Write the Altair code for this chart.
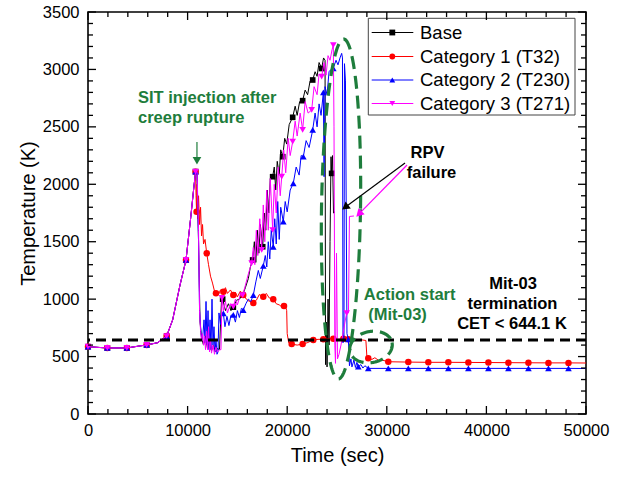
import altair as alt
import numpy as np
import pandas as pd

# ---------------- data ----------------
series_names = ["Base", "Category 1 (T32)", "Category 2 (T230)", "Category 3 (T271)"]
series_colors = ["#000000", "#ff0000", "#0000ff", "#ff00ff"]
series_shapes = ["square", "circle", "triangle-up", "triangle-down"]

# common part (all cases identical before SIT injection)
shared_t = [0, 1000, 1940, 3000, 3900, 5000, 5890, 7000, 7900, 8500, 9240, 9840, 10300, 10600, 10800]
shared_T = [586, 580, 575, 575, 575, 590, 601, 621, 679, 820, 1123, 1341, 1700, 1950, 2110]
shared_mk_t = [0, 1940, 3900, 5890, 7900, 9840, 10800]
shared_mk_T = [586, 575, 575, 601, 679, 1341, 2110]

base_t = [10950, 11100, 11250, 11400, 11600, 11800, 12000, 12200, 12400, 12600, 12800, 13000, 13200,
          13400, 13520, 13800, 14100, 14350, 14590, 14900, 15200, 15530, 15800, 16100, 16300, 16530,
          16700, 16850, 17000, 17150, 17300, 17540, 17700, 17850, 18000, 18150, 18300, 18540, 18700,
          18850, 19000, 19200, 19350, 19550, 19750, 19950, 20200, 20550, 20800, 21000, 21250, 21550,
          21800, 22050, 22300, 22560, 22800, 23000, 23200, 23460, 23650, 23800, 23850, 23950, 24000,
          24100, 24200, 24300, 24400, 24460, 24550, 24650, 24800]
base_T = [2100, 1500, 800, 660, 600, 680, 570, 640, 550, 600, 540, 570, 560,
          980, 1000, 900, 960, 900, 930, 990, 1000, 1036, 1100, 1180, 1280, 1341,
          1500, 1320, 1600, 1400, 1650, 1456, 1750, 1600, 1950, 1750, 2050, 2066, 2150,
          1950, 2200, 2080, 2300, 2240, 2400, 2350, 2520, 2583, 2680, 2600, 2720, 2728,
          2820, 2780, 2900, 2908, 2980, 2940, 3060, 3008, 3100, 3080, 430, 800, 410,
          1000, 600, 1500, 2240, 2095, 2250, 1750, 1761]
base_mk_t = [13520, 14590, 15530, 16530, 17540, 18540, 19550, 20550, 21550, 22560, 23460, 24460]
base_mk_T = [1000, 930, 1036, 1341, 1456, 2066, 2240, 2583, 2728, 2908, 3008, 2095]

cat1_t = [10850, 10900, 10950, 11000, 11100, 11200, 11300, 11400, 11500, 11600, 11750, 11920, 12100,
          12300, 12500, 12700, 12850, 13100, 13300, 13590, 13800, 14000, 14300, 14590, 14800, 15000,
          15300, 15590, 15900, 16200, 16600, 16900, 17200, 17600, 17900, 18200, 18600, 18900, 19200,
          19500, 19680, 19850, 19950, 20000, 20150, 20450, 21000, 21550, 22000, 22620, 23100, 23630,
          24100, 24630, 25100, 25640, 26140, 26800, 27500, 27900, 28000, 28140, 28500, 28800, 29200,
          29500, 30150, 32160, 34170, 36180, 38190, 40200, 42210, 44220, 46230, 48240, 50000]
cat1_T = [1900, 1761, 2000, 1700, 1900, 1650, 1800, 1550, 1650, 1480, 1520, 1399, 1300,
          1200, 1140, 1070, 1051, 1040, 1080, 1065, 1100, 1050, 1080, 1036, 1060, 1020,
          1070, 1036, 1000, 980, 966, 990, 1040, 1021, 1050, 1010, 1000, 960, 950,
          930, 940, 930, 900, 700, 620, 609, 600, 609, 620, 644, 650, 650,
          655, 655, 650, 655, 650, 650, 645, 640, 500, 485, 475, 490, 465,
          470, 455, 452, 450, 450, 449, 448, 447, 446, 445, 445, 444]
cat1_mk_t = [10900, 11920, 12850, 13590, 14590, 15590, 16600, 17600, 18600, 19680, 20450, 21550,
             22620, 23630, 24630, 25640, 26140, 28140, 30150, 32160, 34170, 36180, 38190, 40200,
             42210, 44220, 46230, 48240]
cat1_mk_T = [1761, 1399, 1051, 1065, 1036, 1036, 966, 1021, 1000, 940, 609, 609,
             644, 650, 655, 655, 650, 485, 455, 452, 450, 450, 449, 448,
             447, 446, 445, 445]

cat2_t = [10950, 11100, 11200, 11350, 11500, 11650, 11750, 11850, 11950, 12050, 12150, 12250, 12350,
          12450, 12550, 12650, 12750, 12850, 12950, 13050, 13150, 13300, 13450, 13590, 13750, 13950,
          14150, 14350, 14590, 14800, 15000, 15200, 15400, 15590, 15850, 16100, 16350, 16600, 16850,
          17100, 17300, 17600, 17800, 17950, 18100, 18250, 18400, 18600, 18750, 18900, 19050, 19200,
          19350, 19610, 19800, 20000, 20300, 20610, 20900, 21200, 21400, 21620, 21900, 22200, 22560,
          22800, 23000, 23200, 23400, 23630, 23700, 23800, 24000, 24200, 24400, 24630, 24900, 25100,
          25300, 25470, 25550, 25600, 25700, 25750, 25850, 26000, 26140, 26250, 26400, 26500, 26700,
          26850, 27000, 27140, 27400, 27600, 27800, 28140, 30150, 32160, 34170, 36180, 38190, 40200,
          42210, 44220, 46230, 48240, 50000]
cat2_T = [2100, 1500, 900, 700, 650, 820, 620, 980, 600, 900, 560, 820, 560,
          1000, 600, 760, 540, 650, 520, 540, 880, 780, 880, 876, 760, 850,
          770, 860, 862, 800, 900, 840, 920, 905, 960, 1000, 980, 1036, 1150,
          1250, 1180, 1290, 1380, 1280, 1500, 1350, 1600, 1456, 1700, 1480, 1850, 1520,
          1800, 1674, 1850, 1760, 1950, 2008, 2150, 2080, 2250, 2240, 2380, 2320, 2473,
          2620, 2500, 2700, 2600, 2800, 2066, 2850, 2780, 2980, 3000, 3010, 3080, 3040,
          3100, 3140, 3100, 620, 640, 3050, 2900, 700, 650, 420, 480, 410, 470,
          405, 450, 412, 430, 400, 420, 397, 397, 397, 397, 397, 397, 397,
          397, 397, 397, 397, 396]
cat2_mk_t = [13590, 14590, 15590, 16600, 17600, 18600, 19610, 20610, 21620, 22560, 23630, 24630,
             26140, 27140, 28140, 30150, 32160, 34170, 36180, 38190, 40200, 42210, 44220, 46230, 48240]
cat2_mk_T = [876, 862, 905, 1036, 1290, 1456, 1674, 2008, 2240, 2473, 2800, 3010,
             650, 412, 397, 397, 397, 397, 397, 397, 397, 397, 397, 397, 397]

cat3_t = [10950, 11100, 11200, 11300, 11400, 11500, 11600, 11700, 11800, 11900, 12000, 12100, 12200,
          12300, 12400, 12550, 12700, 12850, 13000, 13200, 13350, 13450, 13600, 13800, 14000, 14300,
          14590, 14800, 15000, 15300, 15530, 15800, 16100, 16430, 16600, 16750, 16900, 17050, 17250,
          17440, 17600, 17750, 17950, 18100, 18300, 18540, 18700, 18900, 19100, 19300, 19450, 19650,
          19850, 20100, 20300, 20550, 20800, 21000, 21300, 21550, 21800, 22100, 22460, 22700, 23000,
          23200, 23460, 23700, 23900, 24100, 24300, 24500, 24630, 24700, 24780, 24850, 24950, 25050,
          25200, 25400, 25600, 25800, 25970, 26150, 26250, 26700]
cat3_T = [2110, 1600, 900, 720, 640, 700, 600, 680, 560, 720, 560, 760, 540,
          640, 530, 600, 520, 580, 540, 560, 560, 1010, 900, 980, 880, 960,
          934, 1000, 950, 1040, 1036, 1120, 1220, 1314, 1450, 1300, 1600, 1380, 1700,
          1428, 1820, 1500, 1950, 1600, 2050, 1602, 2000, 1750, 2150, 1900, 2066, 2300,
          2100, 2400, 2250, 2371, 2550, 2420, 2620, 2473, 2720, 2620, 2647, 2850, 2780,
          2960, 2937, 3060, 2950, 3120, 3080, 3170, 3212, 2500, 600, 441, 1400, 480,
          520, 600, 700, 800, 879, 880, 1720, 1724]
cat3_mk_t = [13450, 14590, 15530, 16430, 17440, 18540, 19450, 20550, 21550, 22460, 23460, 24630, 25970]
cat3_mk_T = [1010, 934, 1036, 1314, 1428, 1602, 2066, 2371, 2473, 2647, 2937, 3212, 879]

series_t = [base_t, cat1_t, cat2_t, cat3_t]
series_T = [base_T, cat1_T, cat2_T, cat3_T]
series_mk_t = [base_mk_t, cat1_mk_t, cat2_mk_t, cat3_mk_t]
series_mk_T = [base_mk_T, cat1_mk_T, cat2_mk_T, cat3_mk_T]
marker_sizes = [32, 42, 44, 44]

x_labels = [0, 10000, 20000, 30000, 40000, 50000]
y_labels = [0, 500, 1000, 1500, 2000, 2500, 3000, 3500]
cet_limit = 644.1

# ---------------- layout ----------------
XMAX, YMAX = 50000, 3500
PW, PH = 498, 402          # plot area in pixels
FONT = "Liberation Sans"
GREEN = "#1e7d3c"


def rx(px):   # plot-relative pixel -> data x
    return px / PW * XMAX


def ry(py):   # plot-relative pixel -> data y
    return (PH - py) / PH * YMAX


xs = alt.Scale(domain=[0, XMAX], nice=False, zero=False)
ys = alt.Scale(domain=[0, YMAX], nice=False, zero=False)
xaxis = alt.Axis(title="Time (sec)", values=x_labels, format="d", ticks=False, tickSize=0,
                 domain=False, grid=False, labelFlush=False, labelPadding=8, titlePadding=7,
                 labelFontSize=16.5, titleFontSize=20, titleFontWeight="normal",
                 labelFont=FONT, titleFont=FONT, labelColor="black", titleColor="black")
yaxis = alt.Axis(title="Temperature (K)", values=y_labels, format="d", ticks=False, tickSize=0,
                 domain=False, grid=False, labelPadding=9, titlePadding=4,
                 labelFontSize=16.5, titleFontSize=20, titleFontWeight="normal",
                 labelFont=FONT, titleFont=FONT, labelColor="black", titleColor="black")
X = alt.X("x:Q", scale=xs, axis=xaxis)
Y = alt.Y("y:Q", scale=ys, axis=yaxis)

layers = []

# data series
for k in range(4):
    tt = shared_t + series_t[k]
    TT = shared_T + series_T[k]
    df = pd.DataFrame({"x": tt, "y": TT, "i": np.arange(len(tt))})
    layers.append(alt.Chart(df).mark_line(color=series_colors[k], strokeWidth=1, clip=True)
                  .encode(x=X, y=Y, order="i:Q"))
    mdf = pd.DataFrame({"x": shared_mk_t + series_mk_t[k], "y": shared_mk_T + series_mk_T[k]})
    layers.append(alt.Chart(mdf).mark_point(shape=series_shapes[k], filled=True, opacity=1,
                                            color=series_colors[k], size=marker_sizes[k])
                  .encode(x=X, y=Y))

# CET limit line
layers.append(alt.Chart(pd.DataFrame({"y": [cet_limit]})).mark_rule(
    color="black", strokeWidth=3, strokeDash=[10, 6]).encode(y=Y))


# green dashed ellipses
def ellipse(cx, cy, a, b, rot, n=180):
    th = np.linspace(0, 2 * np.pi, n)
    r = np.deg2rad(rot)
    dx, dy = a * np.cos(th), b * np.sin(th)
    ex = cx + dx * np.cos(r) - dy * np.sin(r)
    ey = cy + dx * np.sin(r) + dy * np.cos(r)
    return pd.DataFrame({"x": rx(ex), "y": ry(ey), "i": np.arange(n)})


for e in [ellipse(253, 197, 19.5, 170, 0.9), ellipse(283, 335, 21.5, 15.5, -12)]:
    layers.append(alt.Chart(e).mark_line(color=GREEN, strokeWidth=3.2, strokeDash=[13, 7])
                  .encode(x=X, y=Y, order="i:Q"))

# arrows
arrow_df = pd.DataFrame({
    "x": [10940, 31830, 32030], "y": [2368, 2185, 2168],
    "x2": [10940, 25925, 27290], "y2": [2215, 1806, 1749],
    "c": [GREEN, "#000000", "#ff00ff"], "a": [180, 233, 224]})
layers.append(alt.Chart(arrow_df).mark_rule(strokeWidth=1.2).encode(
    x=X, y=Y, x2="x2:Q", y2="y2:Q", color=alt.Color("c:N", scale=None)))
layers.append(alt.Chart(arrow_df).mark_point(shape="triangle", filled=True, opacity=1, size=75)
              .encode(x=alt.X("x2:Q", scale=xs, axis=xaxis), y=alt.Y("y2:Q", scale=ys, axis=yaxis),
                      color=alt.Color("c:N", scale=None), angle=alt.Angle("a:Q", scale=None)))

# annotation texts
ann_left = pd.DataFrame({"x": [5020, 5020], "y": [2751, 2577],
                         "t": ["SIT injection after", "creep rupture"], "c": [GREEN, GREEN]})
ann_center = pd.DataFrame({
    "x": [34087, 34488, 32299, 31075, 42671, 42620, 42570],
    "y": [2272, 2094, 1036, 862, 1132, 958, 784],
    "t": ["RPV", "failure", "Action start", "(Mit-03)", "Mit-03", "termination", "CET < 644.1 K"],
    "c": ["black", "black", GREEN, GREEN, "black", "black", "black"]})
layers.append(alt.Chart(ann_left).mark_text(align="left", baseline="middle", font=FONT,
                                            fontSize=16.5, fontWeight="bold")
              .encode(x=X, y=Y, text="t:N", color=alt.Color("c:N", scale=None)))
layers.append(alt.Chart(ann_center).mark_text(align="center", baseline="middle", font=FONT,
                                              fontSize=16.5, fontWeight="bold")
              .encode(x=X, y=Y, text="t:N", color=alt.Color("c:N", scale=None)))

# legend (drawn inside the plot, top right)
box = pd.DataFrame({"x": [rx(280.3)], "x2": [rx(487)], "y": [ry(6.3)], "y2": [ry(103)]})
layers.append(alt.Chart(box).mark_rect(fill="white", stroke="#444444", strokeWidth=1)
              .encode(x=X, x2="x2:Q", y=Y, y2="y2:Q"))
row_y = [ry(20.5), ry(44.5), ry(68), ry(91.5)]
leg = pd.DataFrame({"x": [rx(283.7)] * 4, "x2": [rx(325.3)] * 4, "xm": [rx(304.3)] * 4,
                    "xt": [rx(332)] * 4, "y": row_y, "name": series_names,
                    "c": series_colors, "s": series_shapes})
layers.append(alt.Chart(leg).mark_rule(strokeWidth=1).encode(
    x=X, x2="x2:Q", y=Y, color=alt.Color("c:N", scale=None)))
layers.append(alt.Chart(leg).mark_point(filled=True, opacity=1, size=34).encode(
    x=alt.X("xm:Q", scale=xs, axis=xaxis), y=Y, color=alt.Color("c:N", scale=None),
    shape=alt.Shape("s:N", scale=None)))
layers.append(alt.Chart(leg).mark_text(align="left", baseline="middle", font=FONT, fontSize=18.5,
                                       color="black")
              .encode(x=alt.X("xt:Q", scale=xs, axis=xaxis), y=Y, text="name:N"))

# inward ticks on all four sides
tick_rows = []
for v in range(0, XMAX + 1, 2000):
    L = (8 if v % 10000 == 0 else 5) * YMAX / PH
    tick_rows.append({"x": v, "x2": v, "y": 0, "y2": L})
    tick_rows.append({"x": v, "x2": v, "y": YMAX, "y2": YMAX - L})
for v in range(0, YMAX + 1, 100):
    L = (8 if v % 500 == 0 else 5) * XMAX / PW
    tick_rows.append({"x": 0, "x2": L, "y": v, "y2": v})
    tick_rows.append({"x": XMAX, "x2": XMAX - L, "y": v, "y2": v})
layers.append(alt.Chart(pd.DataFrame(tick_rows)).mark_rule(color="black", strokeWidth=1.3)
              .encode(x=X, x2="x2:Q", y=Y, y2="y2:Q"))

chart = alt.layer(*layers).properties(
    width=PW, height=PH,
    autosize=alt.AutoSizeParams(type="none"),
    padding={"left": 88, "top": 12, "right": 40, "bottom": 63},
    background="white",
).configure_view(stroke="black", strokeWidth=1.6)

chart.save("out.html", embed_options={"renderer": "svg", "actions": False})
